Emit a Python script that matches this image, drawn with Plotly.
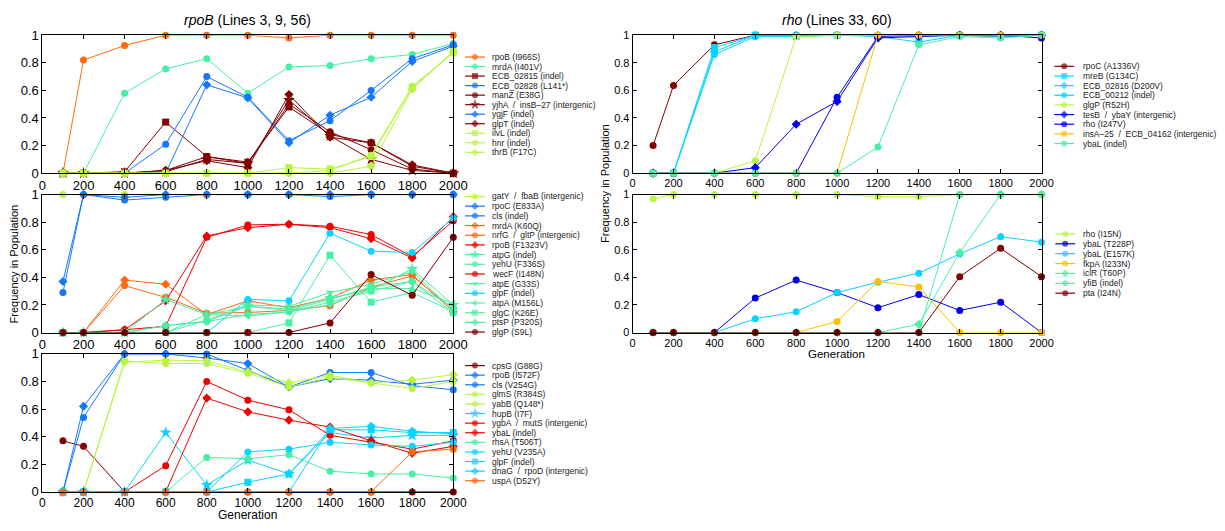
import plotly.graph_objects as go

# ---------------- data ----------------
GENERATIONS = [100, 200, 400, 600, 800, 1000, 1200, 1400, 1600, 1800, 2000]
X_TICKS = [0, 200, 400, 600, 800, 1000, 1200, 1400, 1600, 1800, 2000]
Y_TICKS = [0, 0.2, 0.4, 0.6, 0.8, 1]
Y_TICK_TEXT = ["0", "0.2", "0.4", "0.6", "0.8", "1"]

TITLE_LEFT = "<i>rpoB</i> (Lines 3, 9, 56)"
TITLE_RIGHT = "<i>rho</i> (Lines 33, 60)"
Y_LABEL = "Frequency in Population"
X_LABEL = "Generation"

# rpoB panel 1 (top left)
P1_NAMES = ["rpoB (I966S)", "mrdA (I401V)", "ECB_02815 (indel)", "ECB_02828 (L141*)",
            "manZ (E38G)", "yjhA  /  insB\u201327 (intergenic)", "ygjF (indel)",
            "glpT (indel)", "ilvL (indel)", "hnr (indel)", "thrB (F17C)"]
P1_VALUES = [
    [0, 0.82, 0.925, 1, 1, 1, 0.98, 1, 1, 1, 1],
    [0, 0, 0.58, 0.755, 0.83, 0.58, 0.77, 0.78, 0.83, 0.86, 0.94],
    [0, 0, 0.01, 0.37, 0.12, 0.08, 0.48, 0.28, 0.22, 0.05, 0],
    [0, 0, 0, 0.21, 0.70, 0.55, 0.235, 0.38, 0.60, 0.83, 0.93],
    [0, 0, 0, 0.02, 0.12, 0.07, 0.50, 0.30, 0.17, 0.03, 0],
    [0, 0, 0, 0.01, 0.10, 0.07, 0.53, 0.27, 0.10, 0.02, 0],
    [0, 0, 0, 0, 0.64, 0.545, 0.22, 0.42, 0.55, 0.81, 0.92],
    [0, 0, 0, 0.02, 0.09, 0.04, 0.57, 0.26, 0.22, 0.06, 0],
    [0, 0, 0, 0, 0, 0, 0.04, 0.03, 0.12, 0.62, 0.88],
    [0, 0, 0, 0, 0, 0, 0, 0.02, 0.13, 0.63, 0.87],
    [0, 0, 0, 0, 0, 0, 0, 0, 0.05, 0.61, 0.88],
]

# rpoB panel 2 (middle left)
P2_NAMES = ["gatY  /  fbaB (intergenic)", "rpoC (E833A)", "cls (indel)", "mrdA (K60Q)",
            "nrfG  /  gltP (intergenic)", "rpoB (F1323V)", "atpG (indel)", "yehU (F336S)",
            "wecF (I148N)", "atpE (G33S)", "glpF (indel)", "atpA (M156L)", "glgC (K26E)",
            "ptsP (P320S)", "glgP (S9L)"]
P2_VALUES = [
    [1, 1, 1, 1, 1, 1, 1, 1, 1, 1, 1],
    [0.37, 1, 0.98, 1, 1, 1, 1, 1, 1, 1, 1],
    [0.29, 1, 0.96, 0.98, 1, 1, 1, 0.985, 1, 1, 1],
    [0, 0, 0.38, 0.35, 0.13, 0.23, 0.18, 0.25, 0.38, 0.42, 0.15],
    [0, 0, 0.34, 0.255, 0.14, 0.145, 0.16, 0.195, 0.33, 0.41, 0.17],
    [0, 0, 0.02, 0.23, 0.70, 0.76, 0.785, 0.76, 0.68, 0.54, 0.84],
    [0, 0, 0, 0.24, 0.13, 0.19, 0.17, 0.25, 0.31, 0.46, 0.20],
    [0, 0, 0, 0.05, 0.08, 0.13, 0.15, 0.22, 0.30, 0.37, 0.14],
    [0, 0, 0.02, 0.045, 0.69, 0.78, 0.785, 0.77, 0.71, 0.55, 0.81],
    [0, 0, 0, 0, 0.09, 0.20, 0.19, 0.29, 0.35, 0.44, 0.16],
    [0, 0, 0, 0, 0, 0.24, 0.23, 0.72, 0.59, 0.58, 0.83],
    [0, 0, 0, 0, 0.13, 0.12, 0.15, 0.20, 0.32, 0.32, 0.21],
    [0, 0, 0, 0, 0, 0, 0.07, 0.56, 0.22, 0.29, 0.15],
    [0, 0, 0, 0.05, 0.08, 0.19, 0.16, 0.24, 0.33, 0.37, 0.18],
    [0, 0, 0, 0, 0, 0, 0, 0.07, 0.42, 0.27, 0.69],
]

# rpoB panel 3 (bottom left)
P3_NAMES = ["cpsG (G88G)", "rpoB (I572F)", "cls (V254G)", "glmS (R384S)", "yabB (Q148*)",
            "hupB (I7F)", "ygbA  /  mutS (intergenic)", "ybaL (indel)", "rhsA (T506T)",
            "yehU (V235A)", "glpF (indel)", "dnaG  /  rpoD (intergenic)", "uspA (D52Y)"]
P3_VALUES = [
    [0.37, 0.33, 0, 0, 0, 0, 0, 0, 0, 0, 0],
    [0, 0.62, 1, 1, 0.97, 0.93, 0.76, 0.82, 0.81, 0.78, 0.81],
    [0, 0.54, 1, 1, 1, 0.88, 0.76, 0.865, 0.865, 0.77, 0.74],
    [0, 0, 0.95, 0.93, 0.93, 0.86, 0.76, 0.83, 0.79, 0.75, 0.80],
    [0, 0, 0.94, 0.955, 0.95, 0.87, 0.79, 0.845, 0.79, 0.81, 0.85],
    [0, 0, 0, 0.43, 0.05, 0.23, 0.13, 0.43, 0.39, 0.41, 0.41],
    [0, 0, 0, 0.19, 0.80, 0.665, 0.595, 0.41, 0.36, 0.31, 0.37],
    [0, 0, 0, 0, 0.68, 0.58, 0.52, 0.47, 0.37, 0.28, 0.33],
    [0, 0, 0, 0, 0.25, 0.24, 0.27, 0.15, 0.13, 0.13, 0.10],
    [0, 0, 0, 0, 0, 0.29, 0.31, 0.36, 0.34, 0.33, 0.36],
    [0, 0, 0, 0, 0, 0.07, 0.13, 0.45, 0.45, 0.43, 0.43],
    [0, 0, 0, 0, 0, 0, 0, 0.46, 0.475, 0.44, 0.42],
    [0, 0, 0, 0, 0, 0, 0, 0, 0, 0.29, 0.31],
]

# rho panel 4 (top right)
P4_NAMES = ["rpoC (A1336V)", "mreB (G134C)", "ECB_02816 (D200V)", "ECB_00212 (indel)",
            "glgP (R52H)", "tesB  /  ybaY (intergenic)", "rho (I247V)",
            "insA\u201325  /  ECB_04162 (intergenic)", "ybaL (indel)"]
P4_VALUES = [
    [0.20, 0.635, 0.93, 1, 1, 1, 1, 1, 1, 0.99, 1],
    [0, 0, 0.91, 1, 0.99, 1, 0.99, 0.95, 1, 0.99, 1],
    [0, 0, 0.88, 1, 1, 1, 1, 1, 1, 1, 1],
    [0, 0, 0.86, 0.99, 0.99, 1, 1, 0.99, 1, 1, 1],
    [0, 0, 0, 0.09, 0.99, 1, 1, 1, 1, 1, 1],
    [0, 0, 0, 0.04, 0.355, 0.52, 0.98, 0.99, 1, 1, 1],
    [0, 0, 0, 0, 0, 0.55, 0.99, 1, 1, 1, 0.98],
    [0, 0, 0, 0, 0, 0, 1, 1, 1, 1, 1],
    [0, 0, 0, 0, 0, 0, 0.19, 0.93, 0.99, 0.98, 1],
]

# rho panel 5 (middle right)
P5_NAMES = ["rho (I15N)", "ybaL (T228P)", "ybaL (E157K)", "fkpA (I233N)", "iclR (T60P)",
            "yfiB (indel)", "pta (I24N)"]
P5_VALUES = [
    [0.97, 1, 1, 1, 1, 1, 0.985, 0.985, 1, 1, 1],
    [0, 0, 0, 0.25, 0.38, 0.29, 0.18, 0.275, 0.16, 0.22, 0],
    [0, 0, 0, 0.10, 0.15, 0.29, 0.365, 0.43, 0.57, 0.695, 0.655],
    [0, 0, 0, 0, 0, 0.08, 0.37, 0.33, 0, 0, 0],
    [0, 0, 0, 0, 0, 0, 0, 0.06, 0.58, 1, 1],
    [0, 0, 0, 0, 0, 0, 0, 0, 1, 1, 1],
    [0, 0, 0, 0, 0, 0, 0, 0, 0.405, 0.61, 0.405],
]

# ---------------- styles ----------------
ORANGE = "#FF6A10"
AQUA = "#48F0A4"
DRED = "#820000"
BLUE = "#1478FF"
YGREEN = "#B8F540"
RED = "#F00000"
CYAN = "#08D4FF"
DBLUE = "#0000F0"
GOLD = "#FFC000"

P1_STYLE = [(ORANGE, "circle"), (AQUA, "circle"), (DRED, "square"), (BLUE, "circle"),
            (DRED, "circle"), (DRED, "star"), (BLUE, "diamond"), (DRED, "diamond"),
            (YGREEN, "square"), (YGREEN, "circle"), (YGREEN, "diamond")]
P2_STYLE = [(YGREEN, "circle"), (BLUE, "diamond"), (BLUE, "circle"), (ORANGE, "diamond"),
            (ORANGE, "circle"), (RED, "diamond"), (AQUA, "star"), (AQUA, "circle"),
            (RED, "circle"), (AQUA, "triangle-down"), (CYAN, "circle"), (AQUA, "triangle-left"),
            (AQUA, "square"), (AQUA, "diamond"), (DRED, "circle")]
P3_STYLE = [(DRED, "circle"), (BLUE, "diamond"), (BLUE, "circle"), (YGREEN, "circle"),
            (YGREEN, "diamond"), (CYAN, "star"), (RED, "circle"), (RED, "diamond"),
            (AQUA, "circle"), (CYAN, "circle"), (CYAN, "square"), (CYAN, "diamond"),
            (ORANGE, "circle")]
P4_STYLE = [(DRED, "circle"), (CYAN, "square"), (CYAN, "diamond"), (CYAN, "circle"),
            (YGREEN, "circle"), (DBLUE, "diamond"), (DBLUE, "circle"), (GOLD, "circle"),
            (AQUA, "circle")]
P5_STYLE = [(YGREEN, "circle"), (DBLUE, "circle"), (CYAN, "circle"), (GOLD, "circle"),
            (AQUA, "diamond"), (AQUA, "circle"), (DRED, "circle")]

W, H = 1225, 531
FONT = "Liberation Sans, Arial, sans-serif"

# panel geometry in pixels: (x0, x1, ytop, ybottom), legend (line x, text x, first y, last y),
# y tick font, x tick font
PANELS = [
    (P1_NAMES, P1_VALUES, P1_STYLE, (39, 456, 29, 171), (468, 493, 51.5, 149.5), 13, 13),
    (P2_NAMES, P2_VALUES, P2_STYLE, (39, 456, 193, 335), (468, 493, 195, 334.5), 13, 13),
    (P3_NAMES, P3_VALUES, P3_STYLE, (39, 456, 357, 499), (468, 493, 369, 487.5), 13, 12),
    (P4_NAMES, P4_VALUES, P4_STYLE, (638, 1053, 29, 171), (1066, 1093, 61, 140.5), 11, 11),
    (P5_NAMES, P5_VALUES, P5_STYLE, (638, 1053, 193, 335), (1067, 1093, 233.5, 294.5), 11, 11),
]

fig = go.Figure()
layout = dict(
    width=W, height=H, margin=dict(l=0, r=0, t=0, b=0),
    paper_bgcolor="white", plot_bgcolor="rgba(0,0,0,0)", showlegend=False,
    font=dict(family=FONT, color="black"),
)

annotations = []
LEG_AX = 6  # overlay axis in pixel units for legend keys

def msize(sym):
    return 9 if sym == "star" else 7

for i, (names, values, styles, (x0, x1, yt, yb), (lx, tx, ly0, ly1), yfs, xfs) in enumerate(PANELS, start=1):
    xa = "xaxis" if i == 1 else f"xaxis{i}"
    ya = "yaxis" if i == 1 else f"yaxis{i}"
    xr = "x" if i == 1 else f"x{i}"
    yr = "y" if i == 1 else f"y{i}"
    common = dict(showline=True, linecolor="black", linewidth=1, mirror="ticks",
                  ticks="inside", ticklen=4, tickcolor="black", showgrid=False,
                  zeroline=False)
    layout[xa] = dict(domain=[x0 / W, x1 / W], range=[0, 2000], tickvals=X_TICKS,
                      anchor=yr, tickfont=dict(size=xfs, family=FONT, color="black"), **common)
    layout[ya] = dict(domain=[1 - yb / H, 1 - yt / H], range=[0, 1], tickvals=Y_TICKS,
                      ticktext=Y_TICK_TEXT, anchor=xr,
                      tickfont=dict(size=yfs, family=FONT, color="black"), **common)
    for name, vals, (col, sym) in zip(names, values, styles):
        fig.add_trace(go.Scatter(
            x=GENERATIONS, y=vals, name=name, mode="lines+markers",
            xaxis=xr, yaxis=yr, cliponaxis=False,
            line=dict(color=col, width=1),
            marker=dict(color=col, symbol=sym, size=msize(sym), line=dict(width=0)),
        ))
    # legend (compact, MATLAB style)
    n = len(names)
    step = (ly1 - ly0) / (n - 1)
    for k, (name, (col, sym)) in enumerate(zip(names, styles)):
        yy = ly0 + k * step
        fig.add_trace(go.Scatter(
            x=[lx, lx + 10, lx + 20], y=[yy, yy, yy], mode="lines+markers",
            xaxis=f"x{LEG_AX}", yaxis=f"y{LEG_AX}", cliponaxis=False, hoverinfo="skip",
            line=dict(color=col, width=1.2),
            marker=dict(color=col, symbol=sym, size=[0, msize(sym) - 1, 0], line=dict(width=0)),
        ))
        annotations.append(dict(
            x=tx, y=yy, xref=f"x{LEG_AX}", yref=f"y{LEG_AX}", text=name, showarrow=False,
            xanchor="left", yanchor="middle", font=dict(size=8.5, family=FONT, color="#222"),
        ))

layout[f"xaxis{LEG_AX}"] = dict(domain=[0, 1], range=[0, W], visible=False, anchor=f"y{LEG_AX}",
                                fixedrange=True)
layout[f"yaxis{LEG_AX}"] = dict(domain=[0, 1], range=[H, 0], visible=False, anchor=f"x{LEG_AX}",
                                fixedrange=True)

# titles and axis labels
annotations += [
    dict(x=247 / W, y=1 - 13 / H, xref="paper", yref="paper", text=TITLE_LEFT, showarrow=False,
         xanchor="center", yanchor="middle", font=dict(size=14, family=FONT)),
    dict(x=845 / W, y=1 - 13 / H, xref="paper", yref="paper", text=TITLE_RIGHT, showarrow=False,
         xanchor="center", yanchor="middle", font=dict(size=14, family=FONT)),
    dict(x=10 / W, y=1 - 264 / H, xref="paper", yref="paper", text=Y_LABEL, showarrow=False,
         textangle=-90, xanchor="center", yanchor="middle", font=dict(size=11, family=FONT)),
    dict(x=610 / W, y=1 - 182 / H, xref="paper", yref="paper", text=Y_LABEL, showarrow=False,
         textangle=-90, xanchor="center", yanchor="middle", font=dict(size=11, family=FONT)),
    dict(x=247 / W, y=0, xref="paper", yref="paper", text=X_LABEL, showarrow=False,
         xanchor="center", yanchor="bottom", borderpad=0, font=dict(size=12, family=FONT)),
    dict(x=845 / W, y=1 - 357 / H, xref="paper", yref="paper", text=X_LABEL, showarrow=False,
         xanchor="center", yanchor="middle", font=dict(size=11.5, family=FONT)),
]
layout["annotations"] = annotations

fig.update_layout(**layout)
fig.write_html("out.html")
